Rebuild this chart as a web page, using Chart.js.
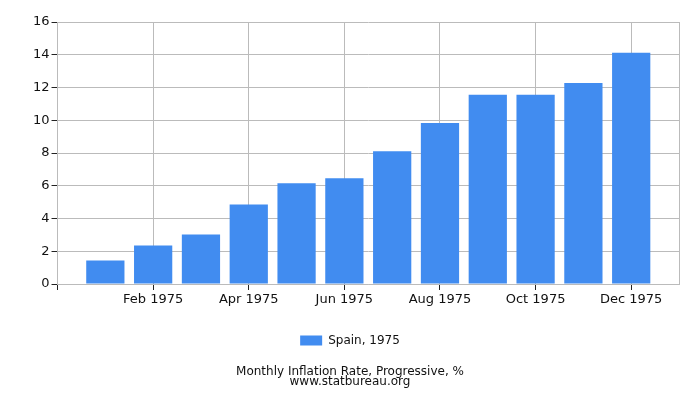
<!DOCTYPE html>
<html>
<head>
<meta charset="utf-8">
<script src="https://cdn.jsdelivr.net/npm/chart.js@4/dist/chart.umd.min.js"></script>
<style>
  html, body { margin: 0; padding: 0; background: #fff; }
  #wrap { width: 700px; height: 400px; }
</style>
</head>
<body>
<div id="wrap"><canvas id="myBarChart"></canvas></div>
<script>
// one empty slot before Jan and after Dec, like the original time axis
const months = ['', 'Jan 1975', 'Feb 1975', 'Mar 1975', 'Apr 1975', 'May 1975', 'Jun 1975',
    'Jul 1975', 'Aug 1975', 'Sep 1975', 'Oct 1975', 'Nov 1975', 'Dec 1975', ''];
const inflation = [null, 1.43, 2.35, 3.02, 4.86, 6.15, 6.46, 8.11, 9.83, 11.55, 11.55, 12.28, 14.12, null];
const yTicks = [0, 2, 4, 6, 8, 10, 12, 14, 16];
const seriesName = 'Spain, 1975';
const titleLines = ['Monthly Inflation Rate, Progressive, %', 'www.statbureau.org'];

Chart.defaults.font.family = '"DejaVu Sans", sans-serif';
Chart.defaults.color = '#222';

// show grid/tick only on even months and the edges
const shown = (i) => i === 0 || i === months.length - 1 || i % 2 === 0;

const config = {
    type: 'bar',
    data: {
        labels: months,
        datasets: [{
            label: seriesName,
            data: inflation,
            backgroundColor: 'rgb(65, 140, 240)',
            borderWidth: 0,
            barPercentage: 0.8,
            categoryPercentage: 1.0
        }]
    },
    options: {
        responsive: true,
        maintainAspectRatio: false,
        animation: false,
        layout: { padding: { top: 22, right: 21, left: 21, bottom: 13 } },
        scales: {
            x: {
                offset: false,
                afterFit: (axis) => { axis.height += 6; },
                grid: {
                    offset: false,
                    color: (ctx) => shown(ctx.index) ? '#bbb' : 'rgba(0,0,0,0)',
                    tickColor: (ctx) => shown(ctx.index) && ctx.index !== months.length - 1 ? '#222' : 'rgba(0,0,0,0)',
                    tickLength: 6
                },
                border: { color: '#bbb' },
                ticks: {
                    autoSkip: false,
                    maxRotation: 0,
                    font: { size: 13 },
                    color: '#111',
                    padding: 2,
                    callback: function (v, i) { return (i % 2 === 0 && i > 0 && i < months.length - 1) ? months[i] : ''; }
                }
            },
            y: {
                min: 0,
                max: 16,
                afterFit: (axis) => { axis.width += 10; },
                afterBuildTicks: (axis) => { axis.ticks = yTicks.map(v => ({ value: v })); },
                grid: { color: '#bbb', tickColor: '#222', tickLength: 6 },
                border: { color: '#bbb' },
                ticks: { font: { size: 13 }, color: '#111', padding: 2 }
            }
        },
        plugins: {
            legend: {
                position: 'bottom',
                labels: { boxWidth: 22, boxHeight: 10, font: { size: 12 }, color: '#111', padding: 19 }
            },
            title: {
                display: true,
                position: 'bottom',
                text: titleLines,
                font: { size: 12, weight: 'normal', lineHeight: 0.85 },
                color: '#111',
                padding: { top: 10, bottom: 0 }
            },
            tooltip: { enabled: false }
        }
    }
};

new Chart(document.querySelector('#myBarChart'), config);
</script>
</body>
</html>
